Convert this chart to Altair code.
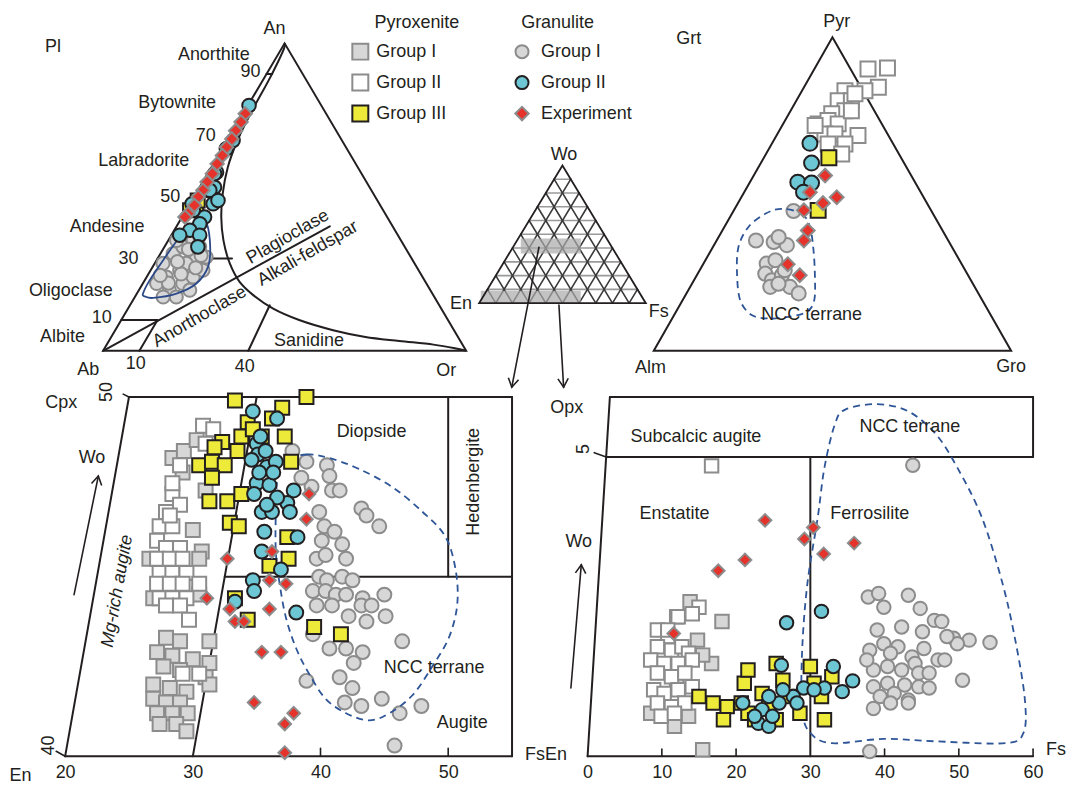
import altair as alt
import pandas as pd

FONT = "Liberation Sans"
INK = "#231f20"
GREY_FILL = "#d7d7d7"
GREY_EDGE = "#8c8c8c"
YELLOW = "#eeea3a"
CYAN = "#6cc6d4"
RED = "#e5322b"
NAVY = "#2e5597"

# ---------------- plagioclase (An, Or) mol% ----------------
PL_GRAN_I = [(28.4, 2.3), (31.6, 3.5), (33.8, 5.1), (35.9, 6.9), (30.5, 10.4), (26.2, 8.0),
             (24.0, 5.4), (21.9, 3.8), (19.7, 8.4), (21.9, 11.0), (24.0, 12.8), (26.2, 14.4),
             (33.8, 9.7), (28.4, 8.7), (17.5, 11.4), (17.5, 7.8), (30.5, 13.1), (35.9, 2.3),
             (19.7, 14.0), (25.0, 9.0), (29.0, 6.0), (33.0, 7.0), (22.0, 7.0), (27.0, 12.0),
             (31.0, 11.5), (24.5, 3.5)]
PL_GRAN_II = [(79.8, 0.3), (68.4, 1.6), (65.7, 1.1), (58.1, 2.2), (53.2, 4.1), (47.8, 6.4),
              (52.2, 3.3), (48.9, 7.2), (43.5, 6.2), (45.7, 2.0), (41.3, 6.0), (39.2, 4.3),
              (37.6, 2.3), (37.6, 7.8), (33.8, 9.2), (47.8, 0.6), (57.6, 1.9)]
PL_PYX_III = [(47.3, 2.0), (45.7, 1.1), (48.9, 1.6)]
PL_EXP = [(77.1, 0.6), (74.4, 0.8), (71.6, 0.7), (68.9, 1.0), (66.2, 0.9), (63.5, 1.1),
          (60.8, 1.0), (57.6, 1.3), (54.9, 1.2), (52.2, 1.4), (50.0, 1.2), (47.3, 1.5),
          (44.6, 1.1), (43.5, 0.8)]
PL_SOLVUS = [(100, 0), (99, 0.5), (90, 1.5), (78, 2.0), (68.4, 2.8), (59.7, 4.5), (51.1, 7.4),
             (43.5, 10.8), (35.9, 15.2), (28.4, 20.7), (22.4, 26.4), (18.1, 32.3), (13.7, 40.0),
             (10.0, 49.0), (6.7, 60.0), (4.5, 70.0), (3.2, 80.0), (2.0, 90.0), (0.8, 96.5), (0, 100)]
PL_FIELD = [(18.6, 1.7), (22.9, 1.35), (29.4, 1.8), (37.0, 2.6), (41.6, 4.0), (43.0, 5.6),
            (41.3, 7.95), (33.8, 12.6), (27.3, 15.25), (21.9, 14.75), (18.6, 10.9), (17.2, 5.2),
            (17.7, 2.65)]
# An level where each plagioclase name boundary stops (An, Or at its end)
PL_LEVELS = [(10, 10.0), (30, 20.5), (50, 8.0), (70, 2.6), (90, 1.6)]
# (An, Or) -> (An, Or) straight boundaries
PL_BOUNDS = [((0, 0), (40.5, 42.2)), ((0, 10), (10, 10)), ((0, 40), (14.8, 38.5))]

# ---------------- garnet (Pyr, Gro) mol% ----------------
GT_PYX_II = [(89.9, 15.0), (90.2, 20.3), (84.1, 20.8), (83.0, 17.6), (83.0, 12.0), (79.8, 11.7),
             (79.8, 15.4), (76.6, 15.2), (75.6, 12.0), (72.4, 9.8), (73.5, 12.0), (72.4, 15.4),
             (76.6, 17.0), (69.2, 13.3), (69.2, 16.1), (68.7, 22.8), (66.0, 20.5), (66.0, 15.8),
             (62.8, 21.2), (71.9, 9.2), (82.0, 15.3)]
GT_PYX_III = [(61.6, 18.2), (44.8, 23.6)]
GT_GRAN_II = [(66.2, 10.6), (59.9, 14.2), (53.8, 13.4), (53.5, 17.4), (50.6, 16.6)]
GT_EXP = [(55.9, 20.0), (50.6, 18.4), (47.1, 23.8), (49.0, 26.7), (44.8, 19.6), (38.4, 23.9),
          (35.2, 24.4), (27.6, 23.7), (24.1, 28.8)]
GT_GRAN_I = [(44.6, 16.8), (35.2, 11.0), (34.7, 16.2), (33.7, 20.4), (36.3, 16.8), (27.8, 17.7),
             (28.9, 19.6), (24.6, 18.9), (22.5, 21.8), (24.1, 23.8), (20.4, 22.4), (20.4, 27.9),
             (18.3, 31.4), (21.4, 24.2), (25.7, 23.8)]
GT_NCC = [(45.3, 13.15), (43.7, 19.55), (39.5, 23.95), (32.1, 28.65), (23.6, 33.3), (16.1, 36.85),
          (12.4, 36.6), (10.8, 32.3), (10.3, 26.95), (11.4, 21.7), (16.1, 16.15), (24.6, 11.0),
          (33.1, 7.15), (39.5, 6.75), (43.7, 9.35)]

# ---------------- clinopyroxene (x = En-axis, Wo) ----------------
CPX_PYX_I = [(28.4, 48.3), (29.3, 48.5), (29.2, 47.9), (30.3, 48.8), (30.7, 45.7), (30.5, 44.5),
             (27.9, 43.3), (29.0, 43.2), (31.3, 43.2), (27.2, 42.9), (28.4, 42.8), (30.0, 42.7),
             (31.3, 42.6), (27.7, 42.5), (29.0, 42.4), (31.0, 42.2), (26.9, 42.0), (28.2, 41.9),
             (29.5, 41.8), (26.9, 41.6), (27.9, 41.5), (29.0, 41.5), (27.2, 41.2), (28.4, 41.2),
             (29.6, 41.2), (27.4, 40.9), (28.7, 40.9), (29.5, 40.7), (31.3, 42.0), (26.6, 45.5),
             (30.5, 45.5), (26.9, 44.4), (31.6, 48.1), (30.0, 46.3), (31.0, 47.4)]
CPX_PYX_II = [(30.8, 49.2), (31.6, 49.1), (28.4, 47.3), (29.0, 47.0), (27.9, 46.8), (27.4, 46.4),
              (28.4, 46.4), (27.2, 46.0), (27.9, 45.8), (29.0, 45.8), (27.2, 45.5), (28.2, 45.5),
              (29.2, 45.5), (27.4, 45.1), (28.4, 45.1), (29.5, 45.1), (27.2, 44.8), (28.2, 44.8),
              (29.2, 44.8), (30.5, 44.8), (27.4, 44.4), (28.4, 44.4), (29.5, 44.4), (27.9, 44.2),
              (29.0, 44.2), (29.7, 43.8), (30.5, 42.3), (29.2, 42.3), (29.0, 48.1), (28.4, 47.6),
              (31.0, 48.7), (28.2, 46.7)]
CPX_PYX_III = [(33.3, 49.9), (38.9, 50.0), (37.0, 49.7), (34.3, 49.3), (36.2, 49.4), (32.3, 48.75),
               (33.8, 48.9), (35.4, 48.9), (37.2, 48.9), (30.5, 48.1), (31.5, 48.2), (32.5, 48.1),
               (31.5, 47.75), (33.5, 48.5), (31.3, 47.1), (32.7, 47.1), (33.8, 47.3), (32.9, 46.5),
               (33.6, 46.4), (37.7, 48.2), (37.4, 46.1), (37.5, 45.5), (36.0, 45.3), (33.3, 44.4),
               (34.3, 43.8), (39.5, 43.6), (41.6, 43.4), (31.7, 48.6), (34.7, 49.1)]
CPX_GRAN_I = [(37.8, 48.5), (40.5, 48.1), (40.7, 47.8), (40.9, 47.4), (41.5, 47.4), (43.2, 46.9),
              (43.6, 46.7), (44.6, 46.4), (39.3, 47.5), (39.9, 46.8), (40.3, 46.4), (41.1, 46.25),
              (41.7, 45.9), (39.7, 45.5), (40.4, 45.6), (42.0, 45.5), (40.1, 46.0), (39.9, 45.0),
              (40.5, 44.9), (41.7, 45.0), (42.5, 44.9), (39.4, 44.6), (40.4, 44.6), (41.2, 44.5),
              (42.0, 44.5), (43.3, 44.4), (45.0, 44.5), (39.7, 44.2), (40.9, 44.2), (42.2, 43.9),
              (43.2, 44.2), (44.0, 44.2), (45.1, 43.9), (43.6, 43.75), (39.4, 43.4), (40.7, 43.0),
              (42.0, 43.0), (43.3, 42.9), (42.6, 42.6), (46.4, 43.2), (38.9, 42.1), (41.5, 42.2),
              (42.5, 41.9), (41.9, 41.5), (43.2, 41.4), (44.8, 41.6), (46.2, 41.2), (47.9, 41.4),
              (45.8, 40.3), (38.9, 48.2), (38.5, 47.75)]
CPX_GRAN_II = [(34.7, 49.6), (36.6, 49.4), (35.0, 48.7), (35.1, 48.4), (34.6, 48.25), (35.8, 48.05),
               (36.5, 48.2), (35.0, 47.6), (36.0, 47.55), (34.8, 47.3), (37.9, 47.4), (37.4, 47.05),
               (35.4, 46.8), (37.6, 46.8), (36.2, 46.8), (35.6, 46.25), (38.2, 46.1), (35.4, 45.7),
               (36.9, 45.2), (34.7, 44.9), (34.8, 44.6), (33.3, 44.3), (38.1, 44.0), (35.3, 48.9),
               (35.7, 48.5), (36.3, 47.9), (35.2, 47.9), (36.6, 47.2), (35.8, 47.0)]
CPX_EXP = [(39.1, 47.3), (38.9, 46.6), (32.7, 45.5), (36.2, 45.7), (31.1, 44.4), (36.0, 44.9),
           (37.3, 44.8), (32.9, 44.1), (33.3, 43.75), (34.0, 43.75), (36.0, 44.1), (35.4, 42.9),
           (36.9, 42.9), (34.8, 41.5), (37.9, 41.2), (37.2, 40.9), (37.2, 40.1)]
CPX_NCC = [(37.0, 48.2), (38.9, 48.4), (40.7, 48.3), (43.0, 48.0), (45.6, 47.5), (48.0, 46.8),
           (49.8, 46.1), (50.6, 45.15), (50.7, 44.2), (50.05, 43.3), (48.75, 42.5), (47.2, 41.7),
           (45.4, 41.2), (43.8, 41.0), (42.0, 41.2), (40.4, 41.6), (39.1, 42.3), (38.1, 43.0),
           (37.3, 43.85), (36.8, 44.8), (36.5, 45.7), (36.5, 46.8), (36.6, 47.65)]

# ---------------- orthopyroxene (x = Fs-axis, Wo) ----------------
OPX_PYX_I = [(13.8, 2.58), (18.1, 2.25), (12.0, 2.33), (14.8, 1.94), (16.7, 1.55), (15.5, 1.69),
             (10.3, 0.69), (11.7, 0.5), (13.6, 0.67), (15.5, 0.11), (8.5, 0.72), (12.0, 1.2)]
OPX_PYX_II = [(9.4, 2.11), (10.8, 2.0), (9.4, 1.83), (11.3, 1.77), (12.7, 1.83), (13.6, 1.72),
              (8.5, 1.61), (10.3, 1.55), (12.2, 1.55), (14.1, 1.61), (9.4, 1.39), (11.3, 1.33),
              (13.1, 1.39), (8.9, 1.11), (10.3, 1.05), (12.2, 1.11), (14.1, 1.16), (9.4, 0.89),
              (11.3, 0.83), (13.1, 0.89), (9.9, 0.67), (11.7, 0.72), (15.0, 2.49), (14.1, 2.38),
              (12.2, 2.33), (10.8, 2.11), (16.7, 4.85)]
OPX_PYX_III = [(15.0, 1.0), (16.9, 0.89), (18.8, 0.83), (18.3, 0.61), (20.7, 0.89), (21.6, 0.72),
               (21.1, 1.22), (22.5, 0.61), (23.5, 1.05), (24.4, 0.83), (25.4, 1.55), (26.3, 1.27),
               (25.4, 0.61), (27.2, 1.0), (30.0, 1.5), (30.5, 1.22), (31.5, 1.0), (31.9, 0.61),
               (32.9, 1.33), (28.6, 0.72), (21.6, 1.44)]
OPX_GRAN_I = [(37.8, 2.66), (39.2, 2.72), (39.9, 2.49), (43.2, 2.69), (44.8, 2.47), (46.7, 2.27),
              (47.7, 2.25), (39.0, 2.11), (42.3, 2.16), (45.1, 2.08), (49.3, 1.97), (51.4, 1.94),
              (54.2, 1.90), (38.0, 1.77), (39.9, 1.88), (41.8, 1.83), (43.7, 1.66), (45.3, 1.80),
              (47.2, 1.61), (48.1, 1.61), (50.5, 1.27), (38.5, 1.44), (40.4, 1.50), (42.3, 1.44),
              (44.1, 1.55), (44.6, 1.39), (46.0, 1.39), (38.5, 1.16), (40.4, 1.22), (42.7, 1.19),
              (44.6, 1.16), (46.0, 1.14), (39.4, 1.0), (41.3, 1.05), (43.2, 0.94), (38.5, 0.80),
              (40.8, 0.89), (43.2, 0.89), (38.0, 0.08), (43.8, 4.86), (37.6, 1.61), (49.8, 1.88),
              (48.4, 2.0), (40.8, 1.72)]
OPX_GRAN_II = [(26.8, 2.23), (31.5, 2.42), (26.1, 1.52), (33.1, 1.5), (35.7, 1.26), (34.3, 1.08),
               (31.9, 1.14), (29.1, 1.14), (27.7, 1.0), (25.8, 0.89), (24.4, 1.0), (23.5, 0.78),
               (20.9, 0.89), (23.0, 0.55), (24.4, 0.5), (22.5, 0.67), (26.3, 1.11), (28.2, 0.89),
               (30.5, 1.11), (24.9, 0.67)]
OPX_EXP = [(23.9, 3.94), (30.4, 3.82), (29.2, 3.63), (31.8, 3.38), (35.9, 3.56), (21.2, 3.28),
           (17.6, 3.10), (11.6, 2.05)]
OPX_NCC = [(34.7, 5.79), (39.0, 5.88), (43.2, 5.76), (46.9, 5.38), (49.8, 4.82), (53.1, 3.99),
           (55.9, 2.88), (57.7, 1.88), (58.9, 0.94), (58.7, 0.39), (56.3, 0.22), (46.9, 0.25),
           (39.9, 0.29), (32.9, 0.22), (30.0, 0.39), (28.9, 0.78), (28.9, 1.77), (29.6, 2.88),
           (31.0, 3.99), (31.9, 4.82), (33.3, 5.54)]

# ---------------- legend ----------------
LEGEND = [(0, 0, "pyx1", "Group I"), (0, 1, "pyx2", "Group II"), (0, 2, "pyx3", "Group III"),
          (1, 0, "gra1", "Group I"), (1, 1, "gra2", "Group II"), (1, 2, "exp", "Experiment")]
LEGEND_HEAD = [(0.35, 0.94, "Pyroxenite"), (1.22, 0.94, "Granulite")]

STYLE = {
    "pyx1": ("square", GREY_FILL, GREY_EDGE),
    "pyx2": ("square", "#ffffff", GREY_EDGE),
    "pyx3": ("square", YELLOW, INK),
    "gra1": ("circle", GREY_FILL, GREY_EDGE),
    "gra2": ("circle", CYAN, INK),
    "exp": ("diamond", RED, GREY_EDGE),
}

TOP_W, TOP_H = 1067, 397
BL_W, BR_W, PANEL_H = 513, 446.3, 360
GAP = 75.7


def frame(px0, px1, py0, py1, v0=0.0, v1=100.0, w0=0.0, w1=100.0):
    """Scale domains of a full-width top panel so that v0..v1 lands on px0..px1
    and w0..w1 on py0..py1."""
    sx = (px1 - px0) / (v1 - v0)
    sy = (py0 - py1) / (w1 - w0)
    return ([v0 - px0 / sx, v0 + (TOP_W - px0) / sx],
            [w0 - (TOP_H - py0) / sy, w0 + py0 / sy], None)


F_PL = frame(103.3, 467.0, 350.7, 42.7)
F_PX = frame(480.0, 647.0, 303.0, 165.0)
F_GT = frame(655.0, 1013.0, 350.7, 36.7)
F_LG = frame(361.0, 523.0, 51.0, 113.0, 0, 1, 0, -2)

AXIS_STYLE = dict(title=None, domain=False, ticks=False, grid=False, labelFont=FONT,
                  labelFontSize=18, labelColor=INK, labelPadding=7, labelFlush=False)
F_CPX = ([14.9, 55.0], [40.0, 50.0], alt.Axis(values=[20, 30, 40, 50], **AXIS_STYLE))
F_OPX = ([0.0, 60.0], [0.0, 6.0], alt.Axis(values=[0, 10, 20, 30, 40, 50, 60], **AXIS_STYLE))


def enc(fr):
    xd, yd, ax = fr
    return {
        "x": alt.X("x:Q", scale=alt.Scale(domain=xd, nice=False, zero=False), axis=ax),
        "y": alt.Y("y:Q", scale=alt.Scale(domain=yd, nice=False, zero=False), axis=None),
    }


def xy(p):
    return pd.DataFrame(p, columns=["x", "y"])


def feld(p):
    return pd.DataFrame({"x": [o + a / 2 for a, o in p], "y": [a for a, o in p]})


def garnet(p):
    return pd.DataFrame({"x": [g + q / 2 for q, g in p], "y": [q for q, g in p]})


def points(df, kind, fr, size):
    shape, fill, stroke = STYLE[kind]
    return alt.Chart(df).mark_point(shape=shape, filled=True, fill=fill, stroke=stroke,
                                    strokeWidth=2, size=size, opacity=1).encode(**enc(fr))


def rules(rows, fr, color=INK, width=2.0):
    df = pd.DataFrame(rows, columns=["x", "y", "x2", "y2"])
    return alt.Chart(df).mark_rule(color=color, strokeWidth=width, strokeCap="round").encode(
        x2="x2:Q", y2="y2:Q", **enc(fr))


def path(df, fr, interp, color=INK, width=2.0, dash=None):
    df = df.assign(k=range(len(df)))
    props = dict(interpolate=interp, color=color, strokeWidth=width, strokeJoin="miter")
    if dash:
        props["strokeDash"] = dash
    return alt.Chart(df).mark_line(**props).encode(order="k:Q", **enc(fr))


def labels(rows, fr, angle=0, italic=False, align="center", dx=0, size=18):
    df = pd.DataFrame(rows, columns=["x", "y", "t"])
    props = dict(font=FONT, fontSize=size, color=INK, align=align, baseline="middle",
                 angle=angle, dx=dx)
    if italic:
        props["fontStyle"] = "italic"
    return alt.Chart(df).mark_text(**props).encode(text="t:N", **enc(fr))


HEAD_DOWN = "M-0.6,-1L0,0L0.6,-1"
HEAD_UP = "M-0.6,1L0,0L0.6,1"


def arrow(x0, y0, x1, y1, fr, shape, angle):
    shaft = rules([(x0, y0, x1, y1)], fr, width=1.6)
    tip = alt.Chart(xy([(x1, y1)])).mark_point(
        shape=shape, filled=False, stroke=INK, strokeWidth=1.6, size=300, angle=angle,
        opacity=1).encode(**enc(fr))
    return [shaft, tip]


TRIANGLE = [(0, 0), (50, 100), (100, 0)]

# ---------------- top row: plagioclase, legend, pyroxene key, garnet ----------------
top_layers = [
    path(xy(TRIANGLE), F_PL, "linear-closed"),
    path(feld(PL_SOLVUS), F_PL, "catmull-rom"),
    rules([(a / 2, a, o + a / 2, a) for a, o in PL_LEVELS], F_PL),
    rules([(o0 + a0 / 2, a0, o1 + a1 / 2, a1) for (a0, o0), (a1, o1) in PL_BOUNDS], F_PL),
    points(feld(PL_GRAN_I), "gra1", F_PL, 175),
    path(feld(PL_FIELD), F_PL, "cardinal-closed", color="#2c4a8a", width=1.8),
    points(feld(PL_PYX_III), "pyx3", F_PL, 196),
    points(feld(PL_GRAN_II), "gra2", F_PL, 185),
    points(feld(PL_EXP), "exp", F_PL, 180),
    labels([(-13.8, 98.7, "Pl"), (47.2, 104.7, "An"), (30.5, 96.3, "Anorthite"),
            (40.6, 90.6, "90"), (20.4, 80.5, "Bytownite"), (28.3, 70.0, "70"),
            (11.2, 61.7, "Labradorite"), (18.5, 50.0, "50"), (1.1, 40.3, "Andesine"),
            (7.0, 30.0, "30"), (-8.9, 19.5, "Oligoclase"), (-0.4, 10.5, "10"),
            (-11.2, 4.5, "Albite"), (-4.1, -6.1, "Ab"), (9.0, -4.3, "10"),
            (39.0, -5.2, "40"), (56.7, 3.2, "Sanidine"), (94.5, -6.5, "Or")], F_PL),
    labels([(50.9, 37.0, "Plagioclase"), (56.4, 31.6, "Alkali-feldspar"),
            (26.6, 11.0, "Anorthoclase")], F_PL, angle=330),
]

# legend
for col, row, kind, text in LEGEND:
    size = 256 if STYLE[kind][0] == "square" else (180 if kind == "exp" else 170)
    top_layers.append(points(xy([(col, -row)]), kind, F_LG, size))
top_layers += [
    labels([(c, -r, t) for c, r, k, t in LEGEND if c == 0], F_LG, align="left", dx=16),
    labels([(c, -r, t) for c, r, k, t in LEGEND if c == 1], F_LG, align="left", dx=19),
    labels(LEGEND_HEAD, F_LG),
]

# small pyroxene key triangle with 10 % grid
LEVELS = [10, 20, 30, 40, 50, 60, 70, 80, 90]
band_df = pd.DataFrame({"x": [25, 1], "x2": [61, 61], "y": [36, 0], "y2": [47, 9]})
top_layers += [
    rules([(w / 2, w, 100 - w / 2, w) for w in LEVELS], F_PX, color="#9a9a9a", width=1.6),
    rules([(f, 0, 50 + f / 2, 100 - f) for f in LEVELS], F_PX, color="#3a3a3a", width=1.6),
    rules([(100 - e, 0, (100 - e) / 2, 100 - e) for e in LEVELS], F_PX, color="#3a3a3a", width=1.6),
    alt.Chart(band_df).mark_rect(color="#a9a9a9", opacity=0.7).encode(
        x2="x2:Q", y2="y2:Q", **enc(F_PX)),
    path(xy(TRIANGLE), F_PX, "linear-closed", width=1.8),
    labels([(50.9, 107.2, "Wo"), (-10.8, -0.7, "En"), (107.8, -6.5, "Fs")], F_PX),
]
top_layers += arrow(35.9, 40.6, 19.6, -61.0, F_PX, HEAD_DOWN, 11.2)
top_layers += arrow(47.9, -1.4, 50.7, -61.0, F_PX, HEAD_DOWN, 356.6)

# garnet triangle
top_layers += [
    path(xy(TRIANGLE), F_GT, "linear-closed"),
    points(garnet(GT_PYX_II), "pyx2", F_GT, 225),
    points(garnet(GT_GRAN_I), "gra1", F_GT, 200),
    path(garnet(GT_NCC), F_GT, "cardinal-closed", color=NAVY, width=1.8, dash=[7, 5]),
    points(garnet(GT_PYX_III), "pyx3", F_GT, 225),
    points(garnet(GT_GRAN_II), "gra2", F_GT, 225),
    points(garnet(GT_EXP), "exp", F_GT, 190),
    labels([(9.8, 99.5, "Grt"), (51.2, 104.8, "Pyr"), (-0.9, -5.6, "Alm"),
            (100.0, -5.1, "Gro"), (44.2, 11.4, "NCC terrane")], F_GT),
]

top = alt.layer(*top_layers).properties(width=TOP_W, height=TOP_H).resolve_scale(
    x="independent", y="independent")

# ---------------- clinopyroxene panel ----------------
cpx_frame = [(20, 40, 25, 50), (25, 50, 55, 50), (55, 50, 55, 40), (20, 40, 55, 40),
             (30, 40, 35, 50), (32.5, 45, 55, 45), (50, 45, 50, 50)]
cpx_ticks = [(40, 40, 40, 40.22), (50, 40, 50, 40.22), (19.3, 40.14, 20, 40),
             (24.55, 50.08, 25, 50)]
bl_layers = [
    rules(cpx_frame, F_CPX),
    rules(cpx_ticks, F_CPX, width=1.6),
    points(xy(CPX_PYX_I), "pyx1", F_CPX, 196),
    points(xy(CPX_PYX_II), "pyx2", F_CPX, 196),
    points(xy(CPX_GRAN_I), "gra1", F_CPX, 196),
    path(xy(CPX_NCC), F_CPX, "cardinal-closed", color=NAVY, width=1.8, dash=[7, 5]),
    points(xy(CPX_PYX_III), "pyx3", F_CPX, 196),
    points(xy(CPX_GRAN_II), "gra2", F_CPX, 196),
    points(xy(CPX_EXP), "exp", F_CPX, 160),
    labels([(19.7, 49.83, "Cpx"), (22.1, 48.3, "Wo"), (44.0, 49.03, "Diopside"),
            (48.9, 42.47, "NCC terrane"), (51.1, 40.94, "Augite"), (16.5, 39.45, "En")], F_CPX),
    labels([(23.3, 50.14, "50"), (18.75, 40.3, "40"), (52.0, 47.64, "Hedenbergite")],
           F_CPX, angle=270),
    labels([(24.1, 44.6, "Mg-rich augite")], F_CPX, angle=280, italic=True),
]
bl_layers += arrow(20.7, 44.5, 22.6, 47.8, F_CPX, HEAD_UP, 11.6)
bl = alt.layer(*bl_layers).properties(width=BL_W, height=PANEL_H)

# ---------------- orthopyroxene panel ----------------
opx_frame = [(0, 0, 3, 6), (3, 6, 60, 6), (2.5, 5, 60, 5), (60, 5, 60, 6), (0, 0, 60, 0),
             (30, 0, 30, 5)]
opx_ticks = [(t, 0, t, 0.12) for t in (10, 20, 40, 50, 60)] + [(0.9, 5.07, 2.5, 5.0)]
br_layers = [
    rules(opx_frame, F_OPX),
    rules(opx_ticks, F_OPX, width=1.6),
    points(xy(OPX_PYX_I), "pyx1", F_OPX, 182),
    points(xy(OPX_PYX_II), "pyx2", F_OPX, 182),
    points(xy(OPX_GRAN_I), "gra1", F_OPX, 182),
    path(xy(OPX_NCC), F_OPX, "cardinal-closed", color=NAVY, width=1.8, dash=[7, 5]),
    points(xy(OPX_PYX_III), "pyx3", F_OPX, 182),
    points(xy(OPX_GRAN_II), "gra2", F_OPX, 182),
    points(xy(OPX_EXP), "exp", F_OPX, 160),
    labels([(14.6, 5.33, "Subcalcic augite"), (43.4, 5.5, "NCC terrane"),
            (11.7, 4.05, "Enstatite"), (38.0, 4.05, "Ferrosilite"), (-2.8, 5.82, "Opx"),
            (-1.2, 3.58, "Wo"), (-5.6, 0.03, "FsEn"), (63.1, 0.1, "Fs")], F_OPX),
    labels([(-0.5, 5.13, "5")], F_OPX, angle=270),
]
br_layers += arrow(-2.25, 1.14, -0.85, 3.2, F_OPX, HEAD_UP, 4.6)
br = alt.layer(*br_layers).properties(width=BR_W, height=PANEL_H)

chart = alt.vconcat(
    top,
    alt.hconcat(bl, br, spacing=GAP, bounds="flush"),
    spacing=0, bounds="flush",
).properties(padding=0).configure_view(strokeWidth=0)

chart.save("out.html", embed_options={"renderer": "svg", "actions": False})
